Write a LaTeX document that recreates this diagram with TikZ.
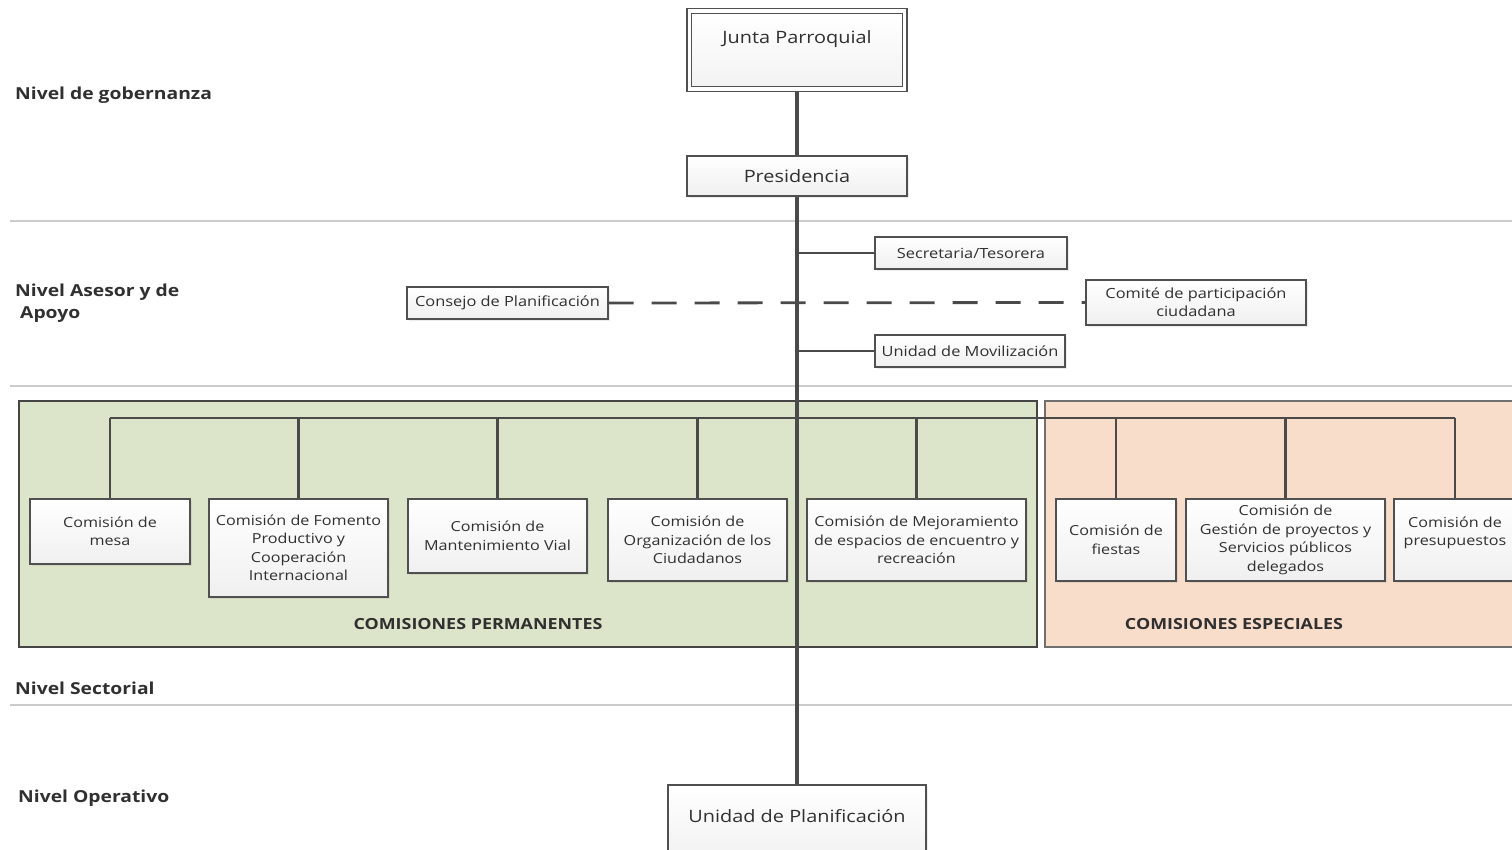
\documentclass[tikz,border=0pt]{standalone}
\usepackage{fontspec}
\setmainfont[FakeStretch=1.17]{Open Sans}
\usetikzlibrary{shadows}
\definecolor{txt}{HTML}{303030}
\definecolor{linec}{HTML}{4A4A4A}
\definecolor{boxc}{HTML}{505050}
\definecolor{greenf}{HTML}{DCE4C9}
\definecolor{orangef}{HTML}{F8DDCA}
\definecolor{sepc}{HTML}{CCCCCC}
\definecolor{gborder}{HTML}{454545}
\definecolor{oborder}{HTML}{707070}
\begin{document}
\begin{tikzpicture}[x=1pt,y=-1pt,
  box/.style={draw=boxc, line width=1.2pt, top color=white, bottom color=gray!12,
    text=txt, align=center, inner sep=0pt,
    font=\fontsize{13.8}{18.5}\selectfont,
    drop shadow={opacity=0.15, shadow xshift=1.5pt, shadow yshift=-1.5pt}},
  bigbox/.style={box, font=\fontsize{17}{21}\selectfont},
  conn/.style={draw=linec, line width=2.8pt},
  thinconn/.style={draw=linec, line width=2.2pt},
  lvl/.style={text=txt, font=\bfseries\fontsize{16.5}{22}\selectfont, anchor=west, align=left, inner sep=0pt},
  paneltxt/.style={text=txt, font=\bfseries\fontsize{15.3}{18}\selectfont, inner sep=0pt},
  sep/.style={draw=sepc, line width=1.3pt}
]
\useasboundingbox (0,0) rectangle (1512,849);
\fill[white] (0,0) rectangle (1512,849);

% level separators
\draw[sep] (10,221) -- (1512,221);
\draw[sep] (10,386) -- (1512,386);
\draw[sep] (10,705) -- (1512,705);

% level labels
\node[lvl] (l1) at (15,95) {Nivel de gobernanza};
\node[lvl] (l2) at (15,303) {Nivel Asesor y de\\\hspace*{5pt}Apoyo};
\node[lvl] (l3) at (15,688) {Nivel Sectorial};
\node[lvl] (l4) at (18,798) {Nivel Operativo};

% panels
\draw[fill=greenf, draw=gborder, line width=2.2pt] (19,401) rectangle (1037,647);
\draw[fill=orangef, draw=oborder, line width=1.2pt] (1045,401) rectangle (1525,647);
\node[paneltxt] (pp) at (478,624) {COMISIONES PERMANENTES};
\node[paneltxt] (pe) at (1234,624) {COMISIONES ESPECIALES};

% node positions
\coordinate (jc) at (797,50);
\coordinate (uc) at (797,827.5);

% main vertical line
\draw[conn, line width=3.2pt] (797,89) -- (797,785);

% top boxes
\node[draw=boxc, line width=1.2pt, double=white, double distance=3.2pt,
  top color=white, bottom color=gray!10, minimum width=215.5pt, minimum height=78pt,
  inner sep=0pt,
  drop shadow={opacity=0.15, shadow xshift=1.5pt, shadow yshift=-1.5pt},
  label={[anchor=base, yshift=-33pt, text=txt, font=\fontsize{17}{21}\selectfont]north:Junta Parroquial}]
  (junta) at (jc) {};
\node[bigbox, minimum width=220pt, minimum height=40pt] (pres) at (797,176) {Presidencia};

% advisory boxes
\node[box, font=\fontsize{14}{18}\selectfont, minimum width=192pt, minimum height=32pt] (sec) at (971,253) {Secretaria/Tesorera};
\node[box, font=\fontsize{14}{18}\selectfont, minimum width=201pt, minimum height=32pt] (cons) at (507.5,303) {Consejo de Planificación};
\node[box, font=\fontsize{14}{18}\selectfont, minimum width=220pt, minimum height=45pt] (comite) at (1196,302.5) {Comité de participación\\ciudadana};
\node[box, font=\fontsize{14}{18}\selectfont, minimum width=190pt, minimum height=32pt] (movil) at (970,351) {Unidad de Movilización};

\draw[thinconn] (sec.west -| pres.south) -- (sec.west);
\draw[thinconn] (movil.west -| pres.south) -- (movil.west);
\draw[draw=linec, line width=2.8pt, dash pattern=on 25pt off 18pt] (cons.east) -- (comite.west);

% commissions
\node[box, minimum width=160pt, minimum height=65pt] (mesa) at (110,531.5) {Comisión de\\mesa};
\node[box, minimum width=179pt, minimum height=98pt] (fomento) at (298.5,548) {Comisión de Fomento\\Productivo y\\Cooperación\\Internacional};
\node[box, minimum width=179pt, minimum height=74pt] (mant) at (497.5,536) {Comisión de\\Mantenimiento Vial};
\node[box, minimum width=179pt, minimum height=82pt] (organ) at (697.5,540) {Comisión de\\Organización de los\\Ciudadanos};
\node[box, minimum width=219pt, minimum height=82pt] (mejor) at (916.5,540) {Comisión de Mejoramiento\\de espacios de encuentro y\\recreación};
\node[box, minimum width=120pt, minimum height=82pt] (fiestas) at (1116,540) {Comisión de\\fiestas};
\node[box, minimum width=199pt, minimum height=82pt] (gestion) at (1285.5,540) {Comisión de\\Gestión de proyectos y\\Servicios públicos\\delegados};
\node[box, minimum width=122pt, minimum height=82pt, text depth=18pt] (presup) at (1455,540) {Comisión de\\presupuestos};

\coordinate (bus) at (797,418);
\draw[conn] (mesa.north |- bus) -- (presup.north |- bus);
\foreach \n in {mesa,fomento,mant,organ,mejor,fiestas,gestion,presup}
  \draw[conn] (\n.north |- bus) -- (\n.north);

% operative
\node[box, minimum width=258pt, minimum height=85pt,
  label={[anchor=base, yshift=-38pt, text=txt, font=\fontsize{17}{21}\selectfont]north:Unidad de Planificación}]
  (uplan) at (uc) {};
\end{tikzpicture}
\end{document}
